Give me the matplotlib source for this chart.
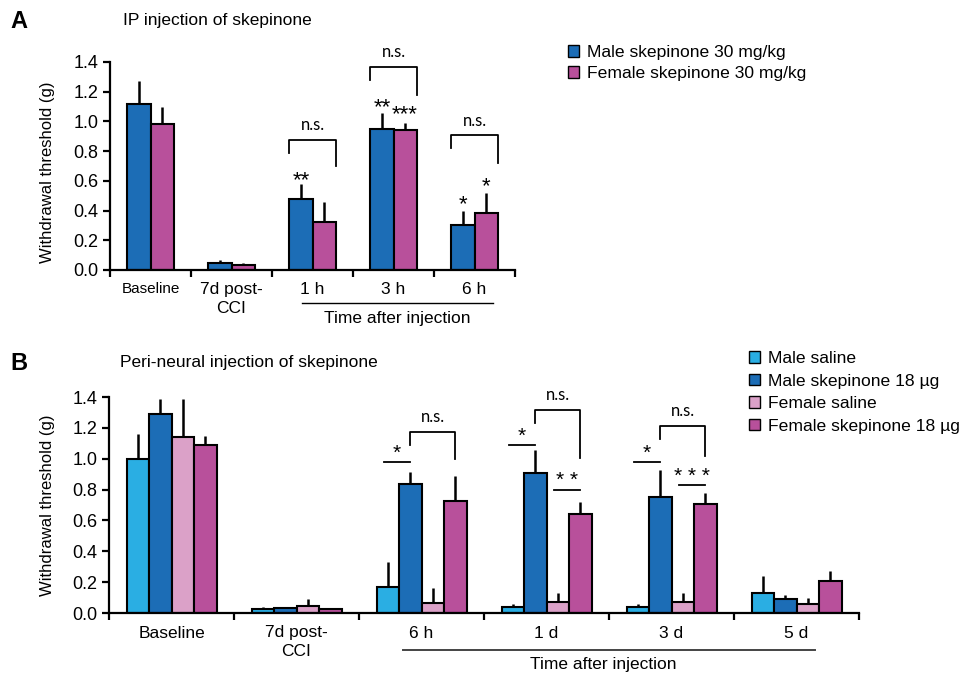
import numpy as np
import matplotlib.pyplot as plt
from matplotlib.patches import Patch

plt.rcParams['font.family'] = ['Liberation Sans', 'DejaVu Sans']

# ---- panel A data (IP injection)
cats_a = ['Baseline', '7d post-\nCCI', '1 h', '3 h', '6 h']
male_a = [1.12, 0.05, 0.48, 0.95, 0.30]
male_a_err = [0.15, 0.02, 0.10, 0.11, 0.10]
female_a = [0.98, 0.035, 0.32, 0.94, 0.385]
female_a_err = [0.12, 0.015, 0.14, 0.05, 0.135]
labels_a = ['Male skepinone 30 mg/kg', 'Female skepinone 30 mg/kg']

# stars above single bars: (category, series 0=male 1=female, y, text)
stars_a = [(2, 0, 0.63, '**'), (3, 0, 1.12, '**'), (3, 1, 1.075, '***'),
           (4, 0, 0.47, '*'), (4, 1, 0.59, '*')]
# n.s. brackets: (category, left leg bottom, top, right leg bottom)
brackets_a = [(2, 0.79, 0.878, 0.70), (3, 1.28, 1.366, 1.18), (4, 0.82, 0.907, 0.72)]

# ---- panel B data (peri-neural injection)
cats_b = ['Baseline', '7d post-\nCCI', '6 h', '1 d', '3 d', '5 d']
m_sal = [1.0, 0.026, 0.17, 0.037, 0.039, 0.127]
m_sal_err = [0.16, 0.014, 0.16, 0.019, 0.017, 0.116]
m_skp = [1.29, 0.03, 0.836, 0.905, 0.752, 0.088]
m_skp_err = [0.10, 0.005, 0.075, 0.15, 0.174, 0.03]
f_sal = [1.14, 0.043, 0.065, 0.071, 0.071, 0.06]
f_sal_err = [0.25, 0.047, 0.10, 0.06, 0.06, 0.039]
f_skp = [1.088, 0.026, 0.728, 0.64, 0.709, 0.205]
f_skp_err = [0.058, 0.0, 0.162, 0.08, 0.066, 0.066]
labels_b = ['Male saline', 'Male skepinone 18 \u00b5g', 'Female saline', 'Female skepinone 18 \u00b5g']

# star lines between two bars: (category, bar i, bar j, line y, text)
starlines_b = [(2, 0, 1, 0.98, '*'), (3, 0, 1, 1.087, '*'), (3, 2, 3, 0.80, '* *'),
               (4, 0, 1, 0.98, '*'), (4, 2, 3, 0.83, '* * *')]
# n.s. brackets between male and female skepinone: (category, left bottom, top, right bottom)
brackets_b = [(2, 1.09, 1.175, 1.0), (3, 1.23, 1.316, 1.005), (4, 1.13, 1.212, 1.02)]

c_msal = '#2aaee3'
c_mskp = '#1c6db6'
c_fsal = '#dba1c8'
c_fskp = '#b8509b'

W, H = 965, 677
fig = plt.figure(figsize=(W / 100, H / 100), dpi=100)


def px_axes(l, r, b, t):
    return fig.add_axes([l / W, 1 - b / H, (r - l) / W, (b - t) / H])


def style_axes(ax, ncat, lab_x, lab_y):
    ax.set_xlim(0, ncat)
    ax.set_ylim(0, 1.4)
    ax.spines['top'].set_visible(False)
    ax.spines['right'].set_visible(False)
    ax.spines['left'].set_linewidth(1.6)
    ax.spines['bottom'].set_linewidth(1.6)
    ax.set_yticks(np.arange(0, 1.41, 0.2))
    ax.set_yticklabels(['%.1f' % v for v in np.arange(0, 1.41, 0.2)], fontsize=13)
    ax.set_xticks(np.arange(ncat + 1))
    ax.set_xticklabels([])
    ax.tick_params(axis='both', direction='out', length=5, width=1.6)
    ax.set_ylabel('Withdrawal threshold (g)', fontsize=12)
    ax.yaxis.set_label_coords(lab_x, lab_y)
    ax.set_xticks(np.arange(ncat) + 0.5, minor=True)
    ax.tick_params(axis='x', which='minor', length=0, pad=9)


def bars(ax, x, vals, errs, color, w):
    ax.bar(x, vals, w, color=color, edgecolor='black', linewidth=1.5, zorder=2)
    ax.errorbar(x, vals, yerr=[np.zeros(len(errs)), errs], fmt='none',
                ecolor='black', elinewidth=1.8, capsize=0, zorder=3)


def bracket(ax, x0, x1, yl, yt, yr):
    ax.plot([x0, x0, x1, x1], [yl, yt, yt, yr], color='black', lw=1.3, clip_on=False)
    ax.text((x0 + x1) / 2, yt + 0.045, 'n.s.', ha='center', va='bottom',
            fontsize=12, family=['Lato', 'DejaVu Sans'])


# ---------------- panel A
ax1 = px_axes(110, 515, 270, 62)
style_axes(ax1, len(cats_a), -0.135, 0.47)
wa = 0.285
xa = np.arange(len(cats_a)) + 0.5
bars(ax1, xa - wa / 2, male_a, male_a_err, c_mskp, wa)
bars(ax1, xa + wa / 2, female_a, female_a_err, c_fskp, wa)
ax1.set_xticklabels(cats_a, minor=True, fontsize=12.5, linespacing=1.3)
ax1.get_xticklabels(minor=True)[0].set_fontsize(11)

for c, s, y, t in stars_a:
    xs = xa[c] + (s - 0.5) * wa
    ax1.text(xs, y - 0.03, t, ha='center', va='center', fontsize=16)
for c, yl, yt, yr in brackets_a:
    bracket(ax1, xa[c] - wa, xa[c] + wa, yl, yt, yr)

tr1 = ax1.get_xaxis_transform()
ax1.plot([2.37, 4.73], [-0.158, -0.158], color='black', lw=1.0, transform=tr1, clip_on=False)
ax1.text(3.55, -0.232, 'Time after injection', transform=tr1, ha='center', va='center', fontsize=12.5)

fig.text(10 / W, 1 - 22 / H, 'A', fontsize=17, fontweight='bold', va='center')
fig.text(123 / W, 1 - 21 / H, 'IP injection of skepinone', fontsize=12.5, va='center')

fig.legend(handles=[Patch(facecolor=c_mskp, edgecolor='black'),
                    Patch(facecolor=c_fskp, edgecolor='black')],
           labels=labels_a, loc='upper left', bbox_to_anchor=(568 / W, 1 - 45 / H),
           frameon=False, fontsize=12.6, handlelength=0.65, handleheight=0.65,
           handletextpad=0.45, labelspacing=0.35, borderaxespad=0, borderpad=0)

# ---------------- panel B
ax2 = px_axes(109, 859, 613, 397)
style_axes(ax2, len(cats_b), -0.072, 0.5)
wb = 0.18
xb = np.arange(len(cats_b)) + 0.5
series_b = [(m_sal, m_sal_err, c_msal), (m_skp, m_skp_err, c_mskp),
            (f_sal, f_sal_err, c_fsal), (f_skp, f_skp_err, c_fskp)]
offs = (np.arange(4) - 1.5) * wb
for (v, e, c), o in zip(series_b, offs):
    bars(ax2, xb + o, v, e, c, wb)
ax2.set_xticklabels(cats_b, minor=True, fontsize=12.5, linespacing=1.3)

for c, i, j, y, t in starlines_b:
    x0, x1 = xb[c] + offs[i] - 0.03, xb[c] + offs[j]
    ax2.plot([x0, x1], [y, y], color='black', lw=1.3, clip_on=False)
    ax2.text((x0 + x1) / 2, y - 0.005, t, ha='center', va='bottom', fontsize=15)
for c, yl, yt, yr in brackets_b:
    bracket(ax2, xb[c] + offs[1], xb[c] + offs[3], yl, yt, yr)

tr2 = ax2.get_xaxis_transform()
ax2.plot([2.35, 5.65], [-0.173, -0.173], color='#444444', lw=1.4, transform=tr2, clip_on=False)
ax2.text(3.95, -0.24, 'Time after injection', transform=tr2, ha='center', va='center', fontsize=12.5)

fig.text(10 / W, 1 - 364 / H, 'B', fontsize=17, fontweight='bold', va='center')
fig.text(120 / W, 1 - 363 / H, 'Peri-neural injection of skepinone', fontsize=12.5, va='center')

fig.legend(handles=[Patch(facecolor=c, edgecolor='black') for _, _, c in series_b],
           labels=labels_b, loc='upper left', bbox_to_anchor=(749 / W, 1 - 351 / H),
           frameon=False, fontsize=12.6, handlelength=0.65, handleheight=0.65,
           handletextpad=0.45, labelspacing=0.43, borderaxespad=0, borderpad=0)

fig.savefig('out.png', dpi=100)
